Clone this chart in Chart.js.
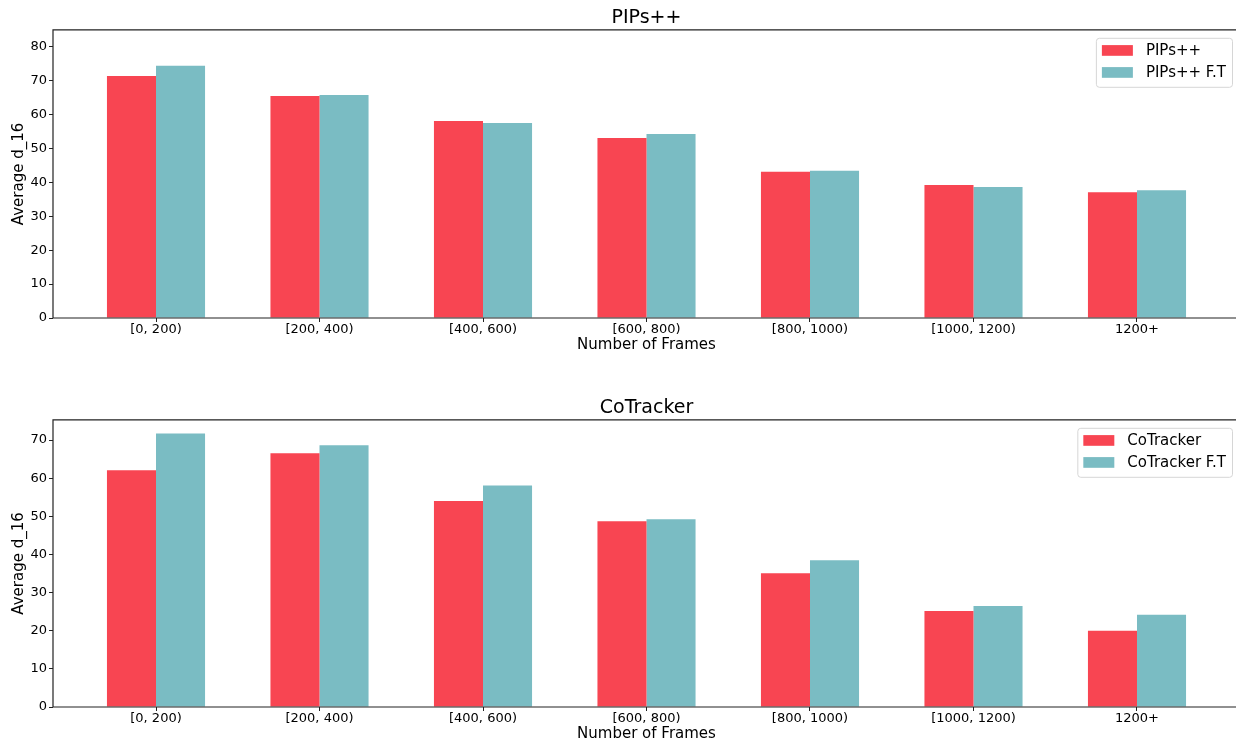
<!DOCTYPE html>
<html>
<head>
<meta charset="utf-8">
<title>Average d_16 by number of frames</title>
<script src="https://cdn.jsdelivr.net/npm/chart.js@4.4.1/dist/chart.umd.min.js"></script>
<style>
  html, body { margin: 0; padding: 0; background: #fff; overflow: hidden; }
  #wrap { width: 1236px; height: 745px; overflow: hidden; }
  canvas { display: block; }
</style>
</head>
<body>
<div id="wrap">
<canvas id="pipsChart" width="1241" height="390"></canvas>
<canvas id="cotrackerChart" width="1241" height="355"></canvas>
</div>
<script>
"use strict"

var frameBins = ["[0, 200)", "[200, 400)", "[400, 600)", "[600, 800)", "[800, 1000)", "[1000, 1200)", "1200+"];

var pipsBase = [71.4, 65.5, 58.1, 53.1, 43.1, 39.2, 37.1];
var pipsFT = [74.4, 65.8, 57.5, 54.3, 43.4, 38.6, 37.7];
var cotrackerBase = [62.1, 66.5, 54.0, 48.7, 35.1, 25.2, 20.0];
var cotrackerFT = [71.7, 68.6, 58.1, 49.2, 38.5, 26.5, 24.2];

var pipsTicks = [0, 10, 20, 30, 40, 50, 60, 70, 80];
var cotrackerTicks = [0, 10, 20, 30, 40, 50, 60, 70];

var RED = "#F84552";
var TEAL = "#7ABCC3";

Chart.defaults.font.family = "'DejaVu Sans', sans-serif";
Chart.defaults.color = "#000";

function points(values) {
  return values.map(function (v, i) { return { x: i, y: v }; });
}

// spines (the right one falls outside the picture) + legend box top right
var framePlugin = {
  id: "frameBox",
  afterDraw: function (chart) {
    var ctx = chart.ctx;
    var a = chart.chartArea;
    ctx.save();
    ctx.strokeStyle = "#222";
    ctx.lineWidth = 1.2;
    ctx.beginPath();
    ctx.moveTo(a.right, a.top);
    ctx.lineTo(a.left, a.top);
    ctx.lineTo(a.left, a.bottom);
    ctx.lineTo(a.right, a.bottom);
    ctx.stroke();

    var sets = chart.data.datasets;
    ctx.font = "15px 'DejaVu Sans', sans-serif";
    var textW = 0;
    sets.forEach(function (ds) { textW = Math.max(textW, ctx.measureText(ds.label).width); });
    var w = 6 + 31 + 13 + textW + 6;
    var h = 49;
    var x = a.right - 8 - w;
    var y = a.top + 8;
    ctx.beginPath();
    ctx.roundRect(x + 0.5, y + 0.5, w, h, 3);
    ctx.fillStyle = "rgba(255,255,255,0.8)";
    ctx.fill();
    ctx.strokeStyle = "#d6d6d6";
    ctx.lineWidth = 1;
    ctx.stroke();

    ctx.textBaseline = "middle";
    ctx.textAlign = "left";
    sets.forEach(function (ds, i) {
      var cy = y + 12.6 + i * 22;
      ctx.fillStyle = ds.backgroundColor;
      ctx.fillRect(x + 6, cy - 5.3, 31, 10.7);
      ctx.fillStyle = "#000";
      ctx.fillText(ds.label, x + 6 + 31 + 13, cy + 1);
    });
    ctx.restore();
  }
};

function makeChart(id, title, names, base, ft, yMax, yTicks, bottomPad) {
  var ctx = document.getElementById(id).getContext("2d");
  return new Chart(ctx, {
    type: "bar",
    data: {
      datasets: [{
        label: names[0],
        data: points(base),
        backgroundColor: RED,
        borderWidth: 0
      }, {
        label: names[1],
        data: points(ft),
        backgroundColor: TEAL,
        borderWidth: 0
      }]
    },
    options: {
      responsive: false,
      animation: false,
      categoryPercentage: 0.6,
      barPercentage: 1.0,
      layout: { padding: { left: 0, right: 1, top: 0, bottom: bottomPad } },
      plugins: {
        legend: { display: false },
        tooltip: { enabled: false },
        title: {
          display: true,
          fullSize: false,
          text: title,
          color: "#000",
          font: { size: 19, weight: "normal" },
          padding: { top: 7, bottom: 0 }
        }
      },
      scales: {
        x: {
          type: "linear",
          offset: false,
          min: -0.63,
          max: 6.63,
          afterBuildTicks: function (axis) {
            axis.ticks = frameBins.map(function (_, i) { return { value: i }; });
          },
          afterFit: function (scale) { scale.height = 38; },
          ticks: {
            font: { size: 13 },
            padding: 0,
            maxRotation: 0,
            callback: function (v) { return frameBins[v]; }
          },
          grid: { offset: false, drawOnChartArea: false, tickLength: 4, color: "#222" },
          border: { display: false },
          title: {
            display: true,
            text: "Number of Frames",
            font: { size: 15 },
            padding: { top: 0, bottom: 2 }
          }
        },
        y: {
          min: 0,
          max: yMax,
          afterBuildTicks: function (axis) {
            axis.ticks = yTicks.map(function (v) { return { value: v }; });
          },
          afterFit: function (scale) { scale.width = 53; },
          ticks: { font: { size: 13 }, padding: 2 },
          grid: { drawOnChartArea: false, tickLength: 4, color: "#222" },
          border: { display: false },
          title: {
            display: true,
            text: "Average d_16",
            font: { size: 15 },
            padding: { top: 10.5, bottom: 0 }
          }
        }
      }
    },
    plugins: [framePlugin]
  });
}

makeChart("pipsChart", "PIPs++", ["PIPs++", "PIPs++ F.T"], pipsBase, pipsFT, 85, pipsTicks, 34);
makeChart("cotrackerChart", "CoTracker", ["CoTracker", "CoTracker F.T"], cotrackerBase, cotrackerFT, 75.3, cotrackerTicks, 0);
</script>
</body>
</html>
